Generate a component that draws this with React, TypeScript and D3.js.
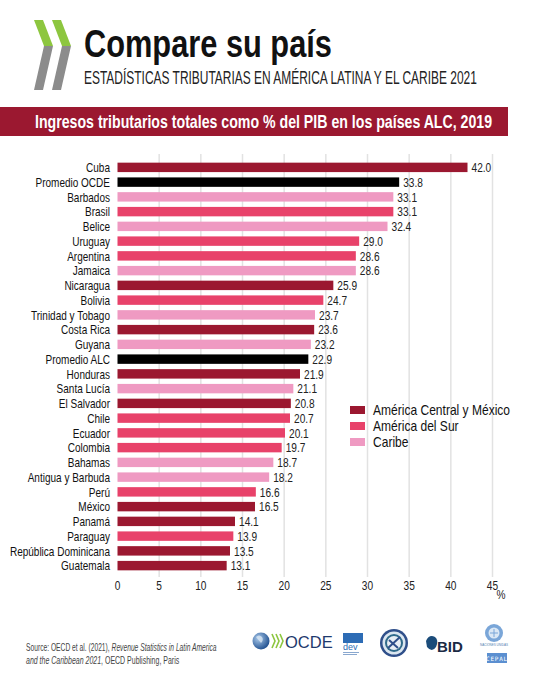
import React from "react";
import * as d3 from "d3";

// Tax revenue as % of GDP, 2019
const countries = [
  "Cuba", "Promedio OCDE", "Barbados", "Brasil", "Belice", "Uruguay", "Argentina",
  "Jamaica", "Nicaragua", "Bolivia", "Trinidad y Tobago", "Costa Rica", "Guyana",
  "Promedio ALC", "Honduras", "Santa Lucía", "El Salvador", "Chile", "Ecuador",
  "Colombia", "Bahamas", "Antigua y Barbuda", "Perú", "México", "Panamá",
  "Paraguay", "República Dominicana", "Guatemala",
];
const values = [
  42.0, 33.8, 33.1, 33.1, 32.4, 29.0, 28.6, 28.6, 25.9, 24.7, 23.7, 23.6, 23.2,
  22.9, 21.9, 21.1, 20.8, 20.7, 20.1, 19.7, 18.7, 18.2, 16.6, 16.5, 14.1, 13.9,
  13.5, 13.1,
];
// c = América Central y México, s = América del Sur, k = Caribe, a = promedio
const groups = [
  "c", "a", "k", "s", "k", "s", "s", "k", "c", "s", "k", "c", "k",
  "a", "c", "k", "c", "s", "s", "s", "k", "k", "s", "c", "c", "s", "c", "c",
];
const legendKeys = ["c", "s", "k"];
const legendLabels = ["América Central y México", "América del Sur", "Caribe"];
const xTicks = [0, 5, 10, 15, 20, 25, 30, 35, 40, 45];

const colors: Record<string, string> = {
  c: "#9b1830",
  s: "#e8426a",
  k: "#ef9ac2",
  a: "#000000",
};

const SANS = "'Liberation Sans', Arial, Helvetica, sans-serif";

// Horizontally condensed text (scaled glyphs)
function CText(props: {
  x: number; y: number; size: number; sx?: number; anchor?: string;
  weight?: number; fill?: string; dy?: string; children: React.ReactNode;
}) {
  const { x, y, size, sx = 0.78, anchor = "start", weight = 400, fill = "#111", dy, children } = props;
  return (
    <text transform={`translate(${x},${y}) scale(${sx},1)`} dy={dy} textAnchor={anchor}
      fontFamily={SANS} fontSize={size} fontWeight={weight} fill={fill}>{children}</text>
  );
}

export default function App() {
  const W = 544;
  const H = 680;
  const x = d3.scaleLinear().domain([0, 45]).range([117.5, 492.5]);
  const y = d3.scaleBand<string>().domain(countries).range([160, 573]).paddingInner(0.36).paddingOuter(0.18);
  const bh = y.bandwidth();

  return (
    <svg width={W} height={H} style={{ position: "absolute", left: 0, top: 0 }}>
      <rect width={W} height={H} fill="#fff" />

      {/* chevron mark */}
      <g>
        <polygon points="34,20 43,20 53,46 44,46" fill="#8dc63f" />
        <polygon points="52,20 61,20 71,46 62,46" fill="#8dc63f" />
        <polygon points="44,46 53,46 43,90 34,90" fill="#8c8c8c" />
        <polygon points="62,46 71,46 61,90 52,90" fill="#8c8c8c" />
      </g>

      <CText x={84} y={57} size={38} sx={0.81} weight={700}>Compare su país</CText>
      <CText x={84} y={84} size={19} sx={0.63} fill="#222">
        ESTADÍSTICAS TRIBUTARIAS EN AMÉRICA LATINA Y EL CARIBE 2021
      </CText>

      <rect x={0} y={107} width={508} height={29} fill="#9b1830" />
      <CText x={35} y={128} size={17.5} sx={0.809} weight={700} fill="#fff">
        Ingresos tributarios totales como % del PIB en los países ALC, 2019
      </CText>

      {/* gridlines */}
      {xTicks.slice(1).map((t) => (
        <line key={t} x1={x(t)} x2={x(t)} y1={154} y2={577} stroke="#e2e2e2" strokeWidth={1.5} />
      ))}

      {/* bars */}
      {countries.map((c, i) => {
        const cy = (y(c) as number) + bh / 2;
        return (
          <g key={c}>
            <rect x={x(0)} y={y(c)} width={x(values[i]) - x(0)} height={bh} fill={colors[groups[i]]} />
            <CText x={110} y={cy} dy="0.36em" anchor="end" size={13} sx={0.77}>{c}</CText>
            <CText x={x(values[i]) + 4} y={cy} dy="0.36em" size={13} sx={0.78} fill="#222">
              {values[i].toFixed(1)}
            </CText>
          </g>
        );
      })}

      {/* x axis labels */}
      {xTicks.map((t) => (
        <CText key={t} x={x(t)} y={590} anchor="middle" size={13} sx={0.78} fill="#222">{t}</CText>
      ))}
      <CText x={501} y={599} anchor="middle" size={13} sx={0.78} fill="#222">%</CText>

      {/* legend */}
      {legendKeys.map((k, i) => (
        <g key={k}>
          <rect x={350} y={406 + i * 16} width={15} height={8} fill={colors[k]} />
          <CText x={373} y={410 + i * 16} dy="0.36em" size={14} sx={0.86}>{legendLabels[i]}</CText>
        </g>
      ))}

      {/* source */}
      <CText x={26} y={651} size={10} sx={0.67} fill="#444">
        Source: OECD et al. (2021), <tspan fontStyle="italic">Revenue Statistics in Latin America</tspan>
      </CText>
      <CText x={26} y={664} size={10} sx={0.7} fill="#444">
        <tspan fontStyle="italic">and the Caribbean 2021</tspan>, OECD Publishing, Paris
      </CText>

      {/* partner logos */}
      <g>
        <defs>
          <radialGradient id="globe" cx="0.35" cy="0.35" r="0.7">
            <stop offset="0" stopColor="#a9c9ea" />
            <stop offset="1" stopColor="#1f4f8f" />
          </radialGradient>
        </defs>
        <circle cx={261} cy={641} r={8.5} fill="url(#globe)" />
        <path d="M256,637 q3,-3 6,0 q2,3 -1,6 z" fill="#d8e6f3" opacity={0.8} />
        <path d="M272,634 l3,7 l-3,7 M276,634 l3,7 l-3,7 M280,634 l3,7 l-3,7" stroke="#8dc63f" strokeWidth={1.6} fill="none" />
        <text x={285} y={648} fontFamily={SANS} fontSize={16.5} fill="#1e3a6e">OCDE</text>

        <rect x={343} y={633} width={20} height={10} fill="#2d6cb5" />
        <text x={343} y={650} fontFamily={SANS} fontSize={9} fill="#2d6cb5">dev</text>
        <rect x={343} y={652} width={16} height={1} fill="#8aa8cf" />
        <rect x={343} y={654} width={14} height={1} fill="#8aa8cf" />

        <circle cx={394} cy={643} r={14} fill="#2f4f8a" />
        <circle cx={394} cy={643} r={11.5} fill="#dbe6f0" />
        <circle cx={394} cy={643} r={9} fill="#2f6a8a" />
        <circle cx={394} cy={643} r={7} fill="#e8eef4" />
        <path d="M388,648 L400,637 M389,640 L398,648" stroke="#2f4f8a" strokeWidth={2} />

        <path d="M426,641 q3,-7 9,-4 q4,3 1,10 q-4,6 -9,0 z" fill="#1b4c7a" />
        <text x={437} y={652} fontFamily={SANS} fontWeight={700} fontSize={15} fill="#1b2a44">BID</text>

        <circle cx={494} cy={633} r={9} fill="#7aa6d8" />
        <circle cx={494} cy={633} r={5.5} fill="#dbe8f5" />
        <path d="M490,633 h8 M494,629 v8" stroke="#7aa6d8" strokeWidth={1} />
        <text x={494} y={646} textAnchor="middle" fontFamily={SANS} fontSize={3} fill="#5080b0">NACIONES UNIDAS</text>
        <rect x={487} y={653} width={20} height={10} fill="#5b8fd0" />
        <text x={497} y={660.5} textAnchor="middle" fontFamily="'DejaVu Sans Mono', monospace" fontSize={6} fill="#fff" letterSpacing={0.8}>CEPAL</text>
      </g>
    </svg>
  );
}
